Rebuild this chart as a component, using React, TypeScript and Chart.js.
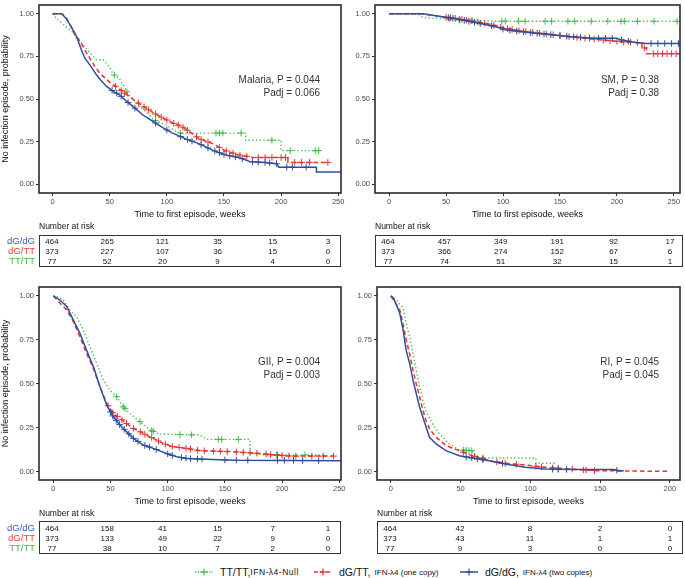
import React, { useEffect, useRef } from 'react';
import { Chart, registerables } from 'chart.js';
Chart.register(...registerables);

const FONT = "'Liberation Sans', Arial, Helvetica, sans-serif";
const BLUE = '#2f4f9d';
const RED = '#e6332c';
const GREEN = '#46b946';
const LBL_BLUE = '#3a5bab';
const LBL_RED = '#e8433b';
const LBL_GREEN = '#3fb83f';

type Pt = [number, number];

// ---------- Malaria ----------
const malariaBlue: Pt[] = [[0,1],[8,1],[12,0.97],[16.5,0.92],[21,0.866],[25,0.79],[28,0.741],[32.5,0.70],[38,0.645],[42,0.612],[47,0.575],[53,0.545],[58.5,0.525],[64,0.49],[70,0.458],[79,0.406],[88,0.368],[96,0.333],[105,0.30],[116.5,0.266],[128,0.238],[140,0.20],[151,0.172],[163,0.157],[170,0.14],[173,0.132],[186,0.128],[196,0.12],[198,0.10],[231,0.10],[231,0.072],[258,0.072]];
const malariaRed: Pt[] = [[0,1],[8,1],[12,0.975],[15,0.94],[20,0.87],[24,0.84],[28,0.79],[32.5,0.74],[37,0.69],[41.4,0.65],[47,0.617],[50,0.598],[56,0.57],[61.8,0.54],[67,0.515],[73.6,0.483],[79,0.458],[88,0.42],[96,0.39],[105,0.36],[113.5,0.337],[119.5,0.31],[128,0.268],[140,0.238],[151,0.197],[163,0.172],[175,0.157],[206,0.157],[206,0.128],[241,0.128]];
const malariaGreen: Pt[] = [[0,1],[3.5,0.97],[9,0.94],[15,0.905],[18,0.89],[21,0.856],[26.7,0.818],[32.5,0.77],[38.5,0.73],[44.3,0.73],[50,0.684],[53,0.645],[58.5,0.62],[62,0.58],[66,0.53],[70,0.50],[76,0.454],[82,0.425],[88,0.38],[99,0.349],[108,0.31],[112,0.30],[169,0.30],[169,0.258],[200,0.258],[200,0.197],[233,0.197]];
const malariaBlueCens = [52,56,60,66,72,90,100,112,118,122,130,136,142,146,150,155,160,166,175,180,186,190,196,205,210,222,258];
const malariaRedCens = [55,60,63,75,80,84,90,95,100,106,110,114,118,126,130,136,146,152,158,164,170,180,186,192,200,204,212,218,225,241];
const malariaGreenCens = [54,65,90,112,143,146,149,165,192,208,230,233];

// ---------- SM ----------
const smBlue: Pt[] = [[0,1],[30,1],[44,0.985],[58.6,0.971],[73,0.952],[87.6,0.933],[96,0.92],[102,0.906],[116.6,0.895],[131,0.885],[145.6,0.875],[160,0.866],[174.6,0.858],[189,0.856],[200,0.856],[203.6,0.847],[218,0.83],[226,0.826],[256,0.826]];
const smRed: Pt[] = [[0,1],[28,1],[44,0.985],[60,0.972],[75,0.955],[90,0.937],[100,0.917],[115,0.9],[130,0.888],[145,0.876],[160,0.864],[175,0.855],[190,0.845],[205,0.835],[222,0.83],[222,0.80],[226,0.80],[226,0.766],[256,0.766]];
const smGreen: Pt[] = [[0,1],[25,1],[30,0.977],[53,0.97],[55,0.965],[96,0.956],[256,0.956]];
const smBlueCens = [52,56,62,66,70,75,80,90,100,106,112,118,124,130,136,142,150,156,162,168,176,184,190,196,204,210,230,236,242,248,254];
const smRedCens = [50,54,58,64,68,72,78,84,92,98,104,108,114,120,126,132,138,144,150,158,165,172,180,188,194,200,206,212,218,224,232,236,240,244,248,252];
const smGreenCens = [52.8,61.4,73,99,102,113.7,119.4,137,142.7,157,163,177.5,192,203.6,206.5,218,232.5,252.8];

// ---------- GII ----------
const giiBlue: Pt[] = [[0,1],[5.8,0.977],[11.7,0.94],[17.5,0.863],[23.3,0.787],[29,0.693],[35,0.598],[40.8,0.484],[46.6,0.38],[52.4,0.313],[58.3,0.266],[64,0.228],[70,0.19],[78.7,0.152],[87.4,0.133],[99,0.104],[107.8,0.085],[116.5,0.076],[128,0.072],[157,0.066],[252,0.063]];
const giiRed: Pt[] = [[0,1],[11.7,0.92],[17.5,0.854],[23.3,0.768],[29,0.674],[35,0.588],[40.8,0.484],[46.6,0.389],[52.4,0.332],[58.3,0.304],[64,0.275],[70,0.247],[78.7,0.218],[87.4,0.19],[96,0.161],[105,0.142],[116.5,0.133],[128,0.12],[157,0.114],[180.6,0.104],[195,0.095],[207,0.089],[245,0.089]];
const giiGreen: Pt[] = [[0,1],[3,1],[8.7,0.977],[14.6,0.92],[20.4,0.882],[26.2,0.806],[32,0.712],[37.9,0.617],[43.7,0.522],[49.5,0.465],[55.4,0.427],[61,0.37],[67,0.332],[75.8,0.285],[84.5,0.237],[93.2,0.214],[128,0.209],[134,0.184],[172,0.184],[172,0.104],[186,0.095],[237,0.095]];
const giiBlueCens = [50,52,55,58,62,66,70,74,80,84,90,100,104,112,116,120,126,130,150,160,170,196,202,210,218,232];
const giiRedCens = [48,52,56,60,64,70,76,80,86,92,98,104,110,116,120,126,132,140,146,152,160,166,172,178,186,190,196,200,206,212,226,236,245];
const giiGreenCens = [55.4,61.2,62.7,75.8,86,87.4,110.7,120.9,144.2,147.1,161.7,195,220];

// ---------- RI ----------
const riBlue: Pt[] = [[0,1],[1.7,0.99],[4,0.95],[6.4,0.9],[8.8,0.806],[11,0.69],[13.5,0.615],[15.9,0.52],[18.2,0.444],[20.6,0.368],[23,0.31],[25.3,0.253],[27.7,0.196],[32.4,0.158],[39.5,0.12],[49,0.091],[58.5,0.078],[70.3,0.063],[82,0.044],[96.3,0.025],[110.5,0.015],[129.5,0.013],[160,0.013],[163,0.006],[167,0.006]];
const riRed: Pt[] = [[0,1],[4,0.95],[6.4,0.92],[8.8,0.84],[11,0.75],[13.5,0.67],[15.9,0.577],[18.2,0.5],[20.6,0.425],[23,0.35],[25.3,0.29],[27.7,0.244],[32.4,0.196],[39.5,0.149],[49,0.12],[58.5,0.091],[70.3,0.063],[82,0.048],[96.3,0.038],[110.5,0.025],[129.5,0.015],[148,0.006],[200,0.002]];
const riGreen: Pt[] = [[0,1],[4,0.977],[8.8,0.93],[11,0.844],[13.5,0.768],[15.9,0.672],[18.2,0.577],[20.6,0.482],[23,0.406],[25.3,0.339],[30,0.272],[34.8,0.215],[41.9,0.158],[49,0.124],[58,0.12],[60.8,0.091],[65,0.078],[104,0.078],[104,0.048],[118,0.048]];
const riBlueCens = [54,58,62,66,80,116,120,126,162];
const riRedCens = [52,60,66,76,82,90,104,108,116,120,130,138,140,146];
const riGreenCens = [52,54,56,58,66];

// ---------- Ticks ----------
const xTicks250 = [0, 50, 100, 150, 200, 250];
const xTicks200 = [0, 50, 100, 150, 200];
const yTicks = [0, 0.25, 0.5, 0.75, 1];

// ---------- Number at risk ----------
const groupLabels = ['dG/dG', 'dG/TT', 'TT/TT'];
const groupLabelColors = [LBL_BLUE, LBL_RED, LBL_GREEN];
const malariaRisk = [[464,265,121,35,15,3],[373,227,107,36,15,0],[77,52,20,9,4,0]];
const smRisk = [[464,457,349,191,92,17],[373,366,274,152,67,6],[77,74,51,32,15,1]];
const giiRisk = [[464,158,41,15,7,1],[373,133,49,22,9,0],[77,38,10,7,2,0]];
const riRisk = [[464,42,8,2,0],[373,43,11,1,1],[77,9,3,0,0]];

function valueAt(curve: Pt[], t: number): number {
  for (let i = 0; i < curve.length - 1; i++) {
    const [t0, s0] = curve[i];
    const [t1, s1] = curve[i + 1];
    if (t >= t0 && t <= t1) {
      if (t1 === t0) return s1;
      return s0 + (s1 - s0) * (t - t0) / (t1 - t0);
    }
  }
  return curve[curve.length - 1][1];
}

interface Series { curve: Pt[]; cens: number[]; color: string; dash: number[]; width: number; order: number; }

interface PanelProps {
  left: number; top: number; width: number; height: number;
  yAxisW: number; xAxisH: number; padTop: number; padRight: number;
  xMin: number; xMax: number; yMin: number; yMax: number;
  xTicks: number[]; yTitle: boolean; label1: string; label2: string;
  series: Series[];
}

function Panel(p: PanelProps) {
  const ref = useRef<HTMLCanvasElement | null>(null);
  useEffect(() => {
    if (!ref.current) return;
    const datasets: any[] = [];
    p.series.forEach((s) => {
      datasets.push({
        type: 'line',
        data: s.curve.map(([x, y]) => ({ x, y })),
        borderColor: s.color,
        borderWidth: s.width,
        borderDash: s.dash,
        pointRadius: 0,
        tension: 0,
        fill: false,
        order: s.order * 2 + 1,
      });
      datasets.push({
        type: 'scatter',
        data: s.cens.map((t) => ({ x: t, y: valueAt(s.curve, t) })),
        showLine: false,
        pointStyle: 'cross',
        pointRadius: 3.3,
        borderColor: s.color,
        backgroundColor: s.color,
        borderWidth: 1,
        order: s.order * 2,
      });
    });
    const boxPlugin = {
      id: 'boxAnno',
      afterDraw(chart: any) {
        const { ctx, chartArea: a } = chart;
        ctx.save();
        ctx.strokeStyle = '#2b2b2b';
        ctx.lineWidth = 1.6;
        ctx.strokeRect(a.left, a.top, a.right - a.left, a.bottom - a.top);
        ctx.fillStyle = '#333';
        ctx.font = `10px ${FONT}`;
        ctx.textAlign = 'right';
        ctx.textBaseline = 'middle';
        ctx.fillText(p.label1, a.right - 21, a.top + 75);
        ctx.fillText(p.label2, a.right - 21, a.top + 88);
        ctx.restore();
      },
    };
    const chart = new Chart(ref.current, {
      type: 'line',
      data: { datasets },
      options: {
        animation: false,
        responsive: false,
        maintainAspectRatio: false,
        layout: { padding: { top: p.padTop, right: p.padRight, left: 0, bottom: 0 } },
        plugins: { legend: { display: false }, tooltip: { enabled: false } },
        scales: {
          x: {
            type: 'linear',
            min: p.xMin,
            max: p.xMax,
            afterBuildTicks: (s: any) => { s.ticks = p.xTicks.map((v) => ({ value: v })); },
            afterFit: (s: any) => { s.height = p.xAxisH; s.paddingLeft = 0; s.paddingRight = 0; },
            grid: { drawOnChartArea: false, drawTicks: true, tickLength: 3, color: '#333', lineWidth: 1 },
            border: { display: false },
            ticks: { color: '#4d4d4d', font: { family: FONT, size: 7.5 }, padding: 1, maxRotation: 0, autoSkip: false, callback: (v: any) => String(v) },
            title: { display: true, text: 'Time to first episode, weeks', color: '#111', font: { family: FONT, size: 9 }, padding: { top: 0, bottom: 4.6 } },
          },
          y: {
            type: 'linear',
            min: p.yMin,
            max: p.yMax,
            afterBuildTicks: (s: any) => { s.ticks = yTicks.map((v) => ({ value: v })); },
            afterFit: (s: any) => { s.width = p.yAxisW; s.paddingTop = 0; s.paddingBottom = 0; },
            grid: { drawOnChartArea: false, drawTicks: true, tickLength: 3, color: '#333', lineWidth: 1 },
            border: { display: false },
            ticks: { color: '#4d4d4d', font: { family: FONT, size: 7.5 }, padding: 2, autoSkip: false, callback: (v: any) => Number(v).toFixed(2) },
            title: { display: p.yTitle, text: 'No infection episode, probability', color: '#111', font: { family: FONT, size: 9 }, padding: { top: 0, bottom: 0 } },
          },
        },
      } as any,
      plugins: [boxPlugin],
    });
    return () => chart.destroy();
  }, []);
  return (
    <canvas
      ref={ref}
      width={p.width}
      height={p.height}
      style={{ position: 'absolute', left: p.left, top: p.top, width: p.width, height: p.height }}
    />
  );
}

interface RiskProps { left: number; width: number; titleY: number; boxTop: number; boxH: number; rowYs: number[]; data: number[][]; showLabels: boolean; }

function RiskTable(r: RiskProps) {
  const n = r.data[0].length;
  const margin = 13;
  const step = (r.width - 2 * margin) / (n - 1);
  const items: any[] = [];
  r.data.forEach((row, ri) => {
    row.forEach((v, ci) => {
      items.push(
        <div key={`${ri}-${ci}`} style={{ position: 'absolute', left: r.left + margin + ci * step, top: r.rowYs[ri], transform: 'translate(-50%,-50%)', fontSize: 8, lineHeight: '9px', color: '#111', whiteSpace: 'nowrap' }}>{v}</div>
      );
    });
    if (r.showLabels) {
      items.push(
        <div key={`lbl-${ri}`} style={{ position: 'absolute', right: 685 - 35, top: r.rowYs[ri], transform: 'translateY(-50%)', fontSize: 9.5, lineHeight: '10px', color: groupLabelColors[ri], whiteSpace: 'nowrap' }}>{groupLabels[ri]}</div>
      );
    }
  });
  return (
    <>
      <div style={{ position: 'absolute', left: r.left, top: r.titleY, transform: 'translateY(-50%)', fontSize: 8.5, lineHeight: '10px', color: '#111', whiteSpace: 'nowrap' }}>Number at risk</div>
      <div style={{ position: 'absolute', left: r.left, top: r.boxTop, width: r.width, height: r.boxH, border: '1.2px solid #333', boxSizing: 'border-box' }} />
      {items}
    </>
  );
}

function LegendSymbol({ color, dash }: { color: string; dash: string }) {
  return (
    <svg width={18} height={10} style={{ display: 'block' }}>
      <line x1={0} y1={5} x2={18} y2={5} stroke={color} strokeWidth={1.5} strokeDasharray={dash} />
      <line x1={9} y1={1.5} x2={9} y2={8.5} stroke={color} strokeWidth={1.2} />
      <line x1={5.5} y1={5} x2={12.5} y2={5} stroke={color} strokeWidth={1.2} />
    </svg>
  );
}

function LegendItem({ x, color, dash, big, small, gap, smallSize, spacing }: { x: number; color: string; dash: string; big: string; small: string; gap: number; smallSize: number; spacing: number }) {
  return (
    <div style={{ position: 'absolute', left: x, top: 571.5, transform: 'translateY(-50%)', display: 'flex', alignItems: 'center', whiteSpace: 'nowrap' }}>
      <LegendSymbol color={color} dash={dash} />
      <span style={{ marginLeft: 7, fontSize: 10.5, color: '#111' }}>{big}</span>
      <span style={{ marginLeft: gap, fontSize: smallSize, letterSpacing: spacing, color: '#111', marginTop: 1 }}>{small}</span>
    </div>
  );
}

export default function App() {
  const S = (curve: Pt[], cens: number[], color: string, dash: number[], width: number, order: number): Series => ({ curve, cens, color, dash, width, order });
  const dashRed = [4.5, 3];
  const dashGreen = [1.3, 2.4];
  return (
    <div style={{ position: 'absolute', left: 0, top: 0, width: 685, height: 578, background: '#fff', overflow: 'hidden', fontFamily: FONT }}>
      <Panel left={0} top={0} width={350} height={225} yAxisW={39} xAxisH={32} padTop={1} padRight={9}
        xMin={-12.0} xMax={252.5} yMin={-0.0517} yMax={1.0517} xTicks={xTicks250} yTitle={true}
        label1="Malaria, P = 0.044" label2="Padj = 0.066"
        series={[S(malariaBlue, malariaBlueCens, BLUE, [], 1.5, 0), S(malariaRed, malariaRedCens, RED, dashRed, 1.5, 1), S(malariaGreen, malariaGreenCens, GREEN, dashGreen, 1.4, 2)]} />
      <Panel left={343} top={0} width={342} height={225} yAxisW={32} xAxisH={32} padTop={1} padRight={2}
        xMin={-12.4} xMax={255.4} yMin={-0.0517} yMax={1.0517} xTicks={xTicks250} yTitle={false}
        label1="SM, P = 0.38" label2="Padj = 0.38"
        series={[S(smBlue, smBlueCens, BLUE, [], 1.5, 0), S(smRed, smRedCens, RED, dashRed, 1.5, 1), S(smGreen, smGreenCens, GREEN, dashGreen, 1.4, 2)]} />
      <Panel left={0} top={280} width={350} height={232} yAxisW={39} xAxisH={32} padTop={7} padRight={9}
        xMin={-12.5} xMax={251.5} yMin={-0.047} yMax={1.051} xTicks={xTicks250} yTitle={true}
        label1="GII, P = 0.004" label2="Padj = 0.003"
        series={[S(giiBlue, giiBlueCens, BLUE, [], 1.5, 0), S(giiRed, giiRedCens, RED, dashRed, 1.5, 1), S(giiGreen, giiGreenCens, GREEN, dashGreen, 1.4, 2)]} />
      <Panel left={343} top={280} width={342} height={232} yAxisW={34} xAxisH={32} padTop={7} padRight={2}
        xMin={-9.94} xMax={207.3} yMin={-0.047} yMax={1.051} xTicks={xTicks200} yTitle={false}
        label1="RI, P = 0.045" label2="Padj = 0.045"
        series={[S(riBlue, riBlueCens, BLUE, [], 1.5, 0), S(riRed, riRedCens, RED, dashRed, 1.5, 1), S(riGreen, riGreenCens, GREEN, dashGreen, 1.4, 2)]} />

      <RiskTable left={39} width={302} titleY={226} boxTop={234.5} boxH={32} rowYs={[240.5, 250.5, 260.5]} data={malariaRisk} showLabels={true} />
      <RiskTable left={375} width={308} titleY={226} boxTop={234.5} boxH={32} rowYs={[240.5, 250.5, 260.5]} data={smRisk} showLabels={false} />
      <RiskTable left={39} width={302} titleY={513.3} boxTop={521} boxH={32.5} rowYs={[527.5, 537.8, 548]} data={giiRisk} showLabels={true} />
      <RiskTable left={377} width={306} titleY={513.3} boxTop={521} boxH={32.5} rowYs={[527.5, 537.8, 548]} data={riRisk} showLabels={false} />

      <LegendItem x={195} color={GREEN} dash="1.3 1.6" big="TT/TT," small="IFN-λ4-Null" gap={0} smallSize={8.5} spacing={0.5} />
      <LegendItem x={314} color={RED} dash="4 2" big="dG/TT," small="IFN-λ4 (one copy)" gap={4} smallSize={8} spacing={0} />
      <LegendItem x={460} color={BLUE} dash="" big="dG/dG," small="IFN-λ4 (two copies)" gap={4} smallSize={8} spacing={0} />
    </div>
  );
}
